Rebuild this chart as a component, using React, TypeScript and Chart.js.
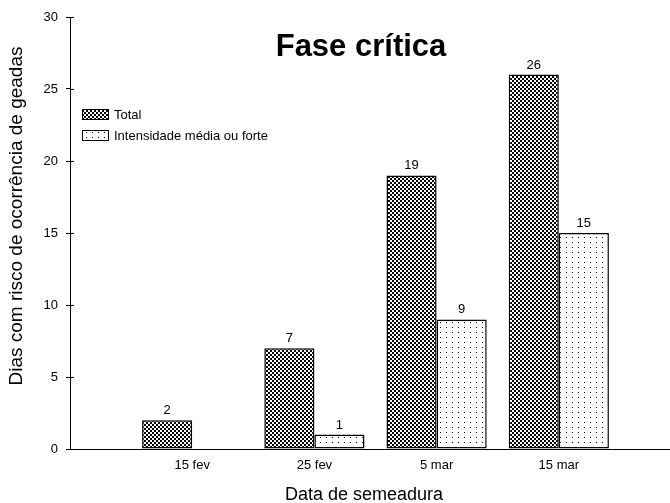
import React, { useEffect, useRef } from 'react';
import { Chart, registerables } from 'chart.js';

Chart.register(...registerables);

const categories = ['15 fev', '25 fev', '5 mar', '15 mar'];
const totalValues: (number | null)[] = [2, 7, 19, 26];
const intensityValues: (number | null)[] = [null, 1, 9, 15];
const seriesLabels = ['Total', 'Intensidade média ou forte'];
const yMin = 0;
const yMax = 30;
const yStep = 5;
const chartTitle = 'Fase crítica';
const xTitle = 'Data de semeadura';
const yTitle = 'Dias com risco de ocorrência de geadas';

const FONT = 'Arial, "Liberation Sans", Helvetica, sans-serif';

function makeChecker(): CanvasPattern | string {
  const c = document.createElement('canvas');
  c.width = 4;
  c.height = 4;
  const g = c.getContext('2d');
  if (!g) return '#777';
  g.fillStyle = '#fff';
  g.fillRect(0, 0, 4, 4);
  g.fillStyle = '#000';
  g.fillRect(0, 0, 2, 2);
  g.fillRect(2, 2, 2, 2);
  return g.createPattern(c, 'repeat') || '#777';
}

function makeDots(): CanvasPattern | string {
  const c = document.createElement('canvas');
  c.width = 6;
  c.height = 5;
  const g = c.getContext('2d');
  if (!g) return '#eee';
  g.fillStyle = '#fff';
  g.fillRect(0, 0, 6, 5);
  g.fillStyle = '#000';
  g.fillRect(2, 2, 1, 1);
  return g.createPattern(c, 'repeat') || '#eee';
}

const decorPlugin = {
  id: 'decor',
  afterDraw(chart: any) {
    const { ctx, chartArea, scales } = chart;
    const yScale = scales.y;
    ctx.save();
    // inner tick marks on y axis
    ctx.strokeStyle = '#000';
    ctx.lineWidth = 1;
    for (let v = yMin; v <= yMax; v += yStep) {
      const py = Math.round(yScale.getPixelForValue(v)) + 0.5;
      ctx.beginPath();
      ctx.moveTo(chartArea.left, py);
      ctx.lineTo(chartArea.left + 4, py);
      ctx.stroke();
    }
    // value labels
    ctx.fillStyle = '#000';
    ctx.font = `13px ${FONT}`;
    ctx.textAlign = 'center';
    ctx.textBaseline = 'bottom';
    chart.data.datasets.forEach((ds: any, di: number) => {
      const meta = chart.getDatasetMeta(di);
      meta.data.forEach((el: any, i: number) => {
        const v = ds.data[i];
        if (v === null || v === undefined) return;
        ctx.fillText(String(v), el.x, el.y - 3);
      });
    });
    // legend
    const lx = chartArea.left + 12;
    let ly = 109;
    chart.data.datasets.forEach((ds: any) => {
      ctx.fillStyle = ds.backgroundColor;
      ctx.fillRect(lx, ly, 27, 11);
      ctx.strokeStyle = '#000';
      ctx.strokeRect(lx + 0.5, ly + 0.5, 26, 10);
      ctx.fillStyle = '#000';
      ctx.font = `13px ${FONT}`;
      ctx.textAlign = 'left';
      ctx.textBaseline = 'middle';
      ctx.fillText(ds.label, lx + 32, ly + 6);
      ly += 21;
    });
    // chart title
    ctx.font = `bold 31px ${FONT}`;
    ctx.textAlign = 'center';
    ctx.textBaseline = 'alphabetic';
    ctx.fillText(chartTitle, 361, 56);
    // x title
    ctx.font = `18px ${FONT}`;
    ctx.fillText(xTitle, 364, 500);
    // y title
    ctx.font = `19px ${FONT}`;
    ctx.translate(22, 216);
    ctx.rotate(-Math.PI / 2);
    ctx.textBaseline = 'alphabetic';
    ctx.fillText(yTitle, 0, 0);
    ctx.restore();
  },
};

export default function App() {
  const ref = useRef<HTMLCanvasElement | null>(null);

  useEffect(() => {
    const canvas = ref.current;
    if (!canvas) return;
    const labels = ['', ...categories, ''];
    const chart = new Chart(canvas, {
      type: 'bar',
      data: {
        labels,
        datasets: [
          {
            label: seriesLabels[0],
            data: [null, ...totalValues, null],
            backgroundColor: makeChecker() as any,
            borderColor: '#000',
            borderWidth: 1.5,
            borderSkipped: false,
            categoryPercentage: 0.82,
            barPercentage: 1,
          },
          {
            label: seriesLabels[1],
            data: [null, ...intensityValues, null],
            backgroundColor: makeDots() as any,
            borderColor: '#000',
            borderWidth: 1.5,
            borderSkipped: false,
            categoryPercentage: 0.82,
            barPercentage: 1,
          },
        ],
      },
      options: {
        responsive: false,
        devicePixelRatio: 1,
        animation: false,
        layout: { padding: { left: 0, top: 17, right: 9, bottom: 0 } },
        plugins: {
          legend: { display: false },
          title: { display: false },
          tooltip: { enabled: false },
        },
        scales: {
          x: {
            type: 'category',
            offset: false,
            grid: { display: false, drawTicks: false },
            border: { display: true, color: '#000', width: 1 },
            ticks: {
              color: '#000',
              font: { family: FONT, size: 13 },
              autoSkip: false,
              maxRotation: 0,
              padding: 9,
            },
            afterFit: (s: any) => {
              s.height = 54;
            },
          },
          y: {
            min: yMin,
            max: yMax,
            grid: {
              display: true,
              drawOnChartArea: false,
              drawTicks: true,
              tickLength: 4,
              tickColor: '#000',
            },
            border: { display: true, color: '#000', width: 1 },
            ticks: {
              stepSize: yStep,
              color: '#000',
              font: { family: FONT, size: 13 },
              padding: 8,
            },
            afterFit: (s: any) => {
              s.width = 70;
            },
          },
        },
      },
      plugins: [decorPlugin],
    });
    return () => chart.destroy();
  }, []);

  return (
    <div
      style={{
        position: 'fixed',
        left: 0,
        top: 0,
        width: 670,
        height: 503,
        overflow: 'hidden',
        background: '#fff',
      }}
    >
      <canvas ref={ref} width={690} height={503} style={{ display: 'block', width: 690, height: 503 }} />
    </div>
  );
}
